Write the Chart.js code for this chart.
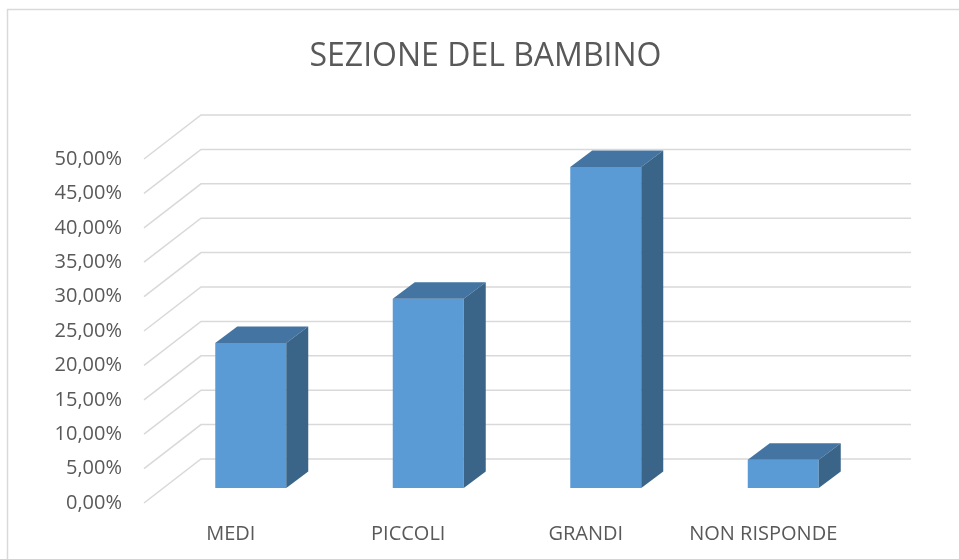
<!DOCTYPE html>
<html lang="it">
<head>
<meta charset="utf-8">
<title>Sezione del bambino</title>
<script src="https://cdn.jsdelivr.net/npm/chart.js@4.4.1/dist/chart.umd.min.js"></script>
<style>
  html, body { margin: 0; padding: 0; background: #fff; }
  #wrap { position: relative; width: 959px; height: 559px; }
</style>
</head>
<body>
<div id="wrap"><canvas id="chart" width="959" height="559"></canvas></div>
<script>
// ───── Data ──────────────────────────────────────────────────────────────────
const CATEGORIES = ['MEDI', 'PICCOLI', 'GRANDI', 'NON RISPONDE'];
const SHARES = [0.2108, 0.2751, 0.4666, 0.0411];
const Y_MAX = 0.5;
const Y_STEP = 0.05;
const TITLE = 'SEZIONE DEL BAMBINO';

// ───── Look ──────────────────────────────────────────────────────────────────
const FONT = '"Open Sans", "Noto Sans", sans-serif';
const TEXT = '#595959';
const GRID = '#d9d9d9';
const FRONT = '#5b9bd5';
const TOP = '#4474a1';
const SIDE = '#3a6488';

// Depth of the floor / side wall, and where the bars sit inside it.
const WALL_DX = 59, WALL_DY = 44;
const BAR_OX = 20, BAR_OY = 15;       // front face offset from the front plane
const BAR_DX = 22, BAR_DY = 16.5;     // bar thickness

// Italian percent: 25,00%
function pct(v) {
  return (v * 100).toFixed(2).replace('.', ',') + '%';
}

// Grid as an open box: diagonal on the left wall, then a line along the back.
// Bars are drawn by Chart.js with the context shifted into the box, and the
// top and side faces are added afterwards from the bar elements.
const box3d = {
  id: 'box3d',
  beforeDraw(chart) {
    const ctx = chart.ctx;
    ctx.save();
    ctx.fillStyle = '#fff';
    ctx.fillRect(0, 0, chart.width, chart.height);
    ctx.strokeStyle = GRID;
    ctx.lineWidth = 1.5;
    ctx.beginPath();
    ctx.moveTo(7.5, chart.height);
    ctx.lineTo(7.5, 9.5);
    ctx.lineTo(chart.width, 9.5);
    ctx.stroke();
    ctx.restore();
  },
  beforeDatasetsDraw(chart) {
    const ctx = chart.ctx;
    const { left, right } = chart.chartArea;
    const y = chart.scales.y;
    ctx.save();
    ctx.strokeStyle = GRID;
    ctx.lineWidth = 1.5;
    y.ticks.forEach((t) => {
      const py = y.getPixelForValue(t.value);
      ctx.beginPath();
      ctx.moveTo(left + 2, py);
      ctx.lineTo(left + WALL_DX, py - WALL_DY);
      ctx.lineTo(right + WALL_DX, py - WALL_DY);
      ctx.stroke();
    });
    ctx.restore();
    ctx.save();
    ctx.translate(BAR_OX, -BAR_OY);
  },
  afterDatasetsDraw(chart) {
    const ctx = chart.ctx;
    ctx.restore();
    chart.getDatasetMeta(0).data.forEach((bar) => {
      const { x, y, base, width } = bar.getProps(['x', 'y', 'base', 'width'], true);
      const l = x - width / 2 + BAR_OX;
      const r = x + width / 2 + BAR_OX;
      const t = y - BAR_OY;
      const b = base - BAR_OY;
      ctx.fillStyle = TOP;
      ctx.beginPath();
      ctx.moveTo(l, t);
      ctx.lineTo(l + BAR_DX, t - BAR_DY);
      ctx.lineTo(r + BAR_DX, t - BAR_DY);
      ctx.lineTo(r, t);
      ctx.closePath();
      ctx.fill();
      ctx.fillStyle = SIDE;
      ctx.beginPath();
      ctx.moveTo(r, t);
      ctx.lineTo(r + BAR_DX, t - BAR_DY);
      ctx.lineTo(r + BAR_DX, b - BAR_DY);
      ctx.lineTo(r, b);
      ctx.closePath();
      ctx.fill();
    });
  },
};

new Chart(document.getElementById('chart'), {
  type: 'bar',
  data: {
    labels: CATEGORIES,
    datasets: [{
      data: SHARES,
      backgroundColor: FRONT,
      borderWidth: 0,
      categoryPercentage: 1,
      barPercentage: 0.4,
      clip: false,
    }],
  },
  options: {
    responsive: false,
    animation: false,
    events: [],
    layout: { padding: { left: 12, right: 0, top: 0, bottom: 0 } },
    plugins: {
      legend: { display: false },
      tooltip: { enabled: false },
      title: {
        display: true,
        text: TITLE,
        color: TEXT,
        font: { family: FONT, size: 32, weight: 'normal', lineHeight: 1.2 },
        padding: { top: 38, bottom: 82.6 },
      },
    },
    scales: {
      x: {
        grid: { display: false, drawTicks: false },
        border: { display: false },
        ticks: {
          color: TEXT,
          font: { family: FONT, size: 20 },
          padding: 19,
          maxRotation: 0,
        },
        afterFit: (scale) => { scale.height = 56; },
      },
      y: {
        min: 0,
        max: Y_MAX,
        grid: { display: false, drawTicks: false },
        border: { display: false },
        ticks: {
          stepSize: Y_STEP,
          color: TEXT,
          font: { family: FONT, size: 20 },
          padding: 20,
          callback: (v) => pct(v),
        },
        afterFit: (scale) => { scale.width = 130; },
      },
      // empty right axis, only to leave room for the depth of the box
      y2: {
        position: 'right',
        grid: { display: false, drawTicks: false },
        border: { display: false },
        ticks: { display: false },
        afterFit: (scale) => { scale.width = 107; },
      },
    },
  },
  plugins: [box3d],
});
</script>
</body>
</html>
